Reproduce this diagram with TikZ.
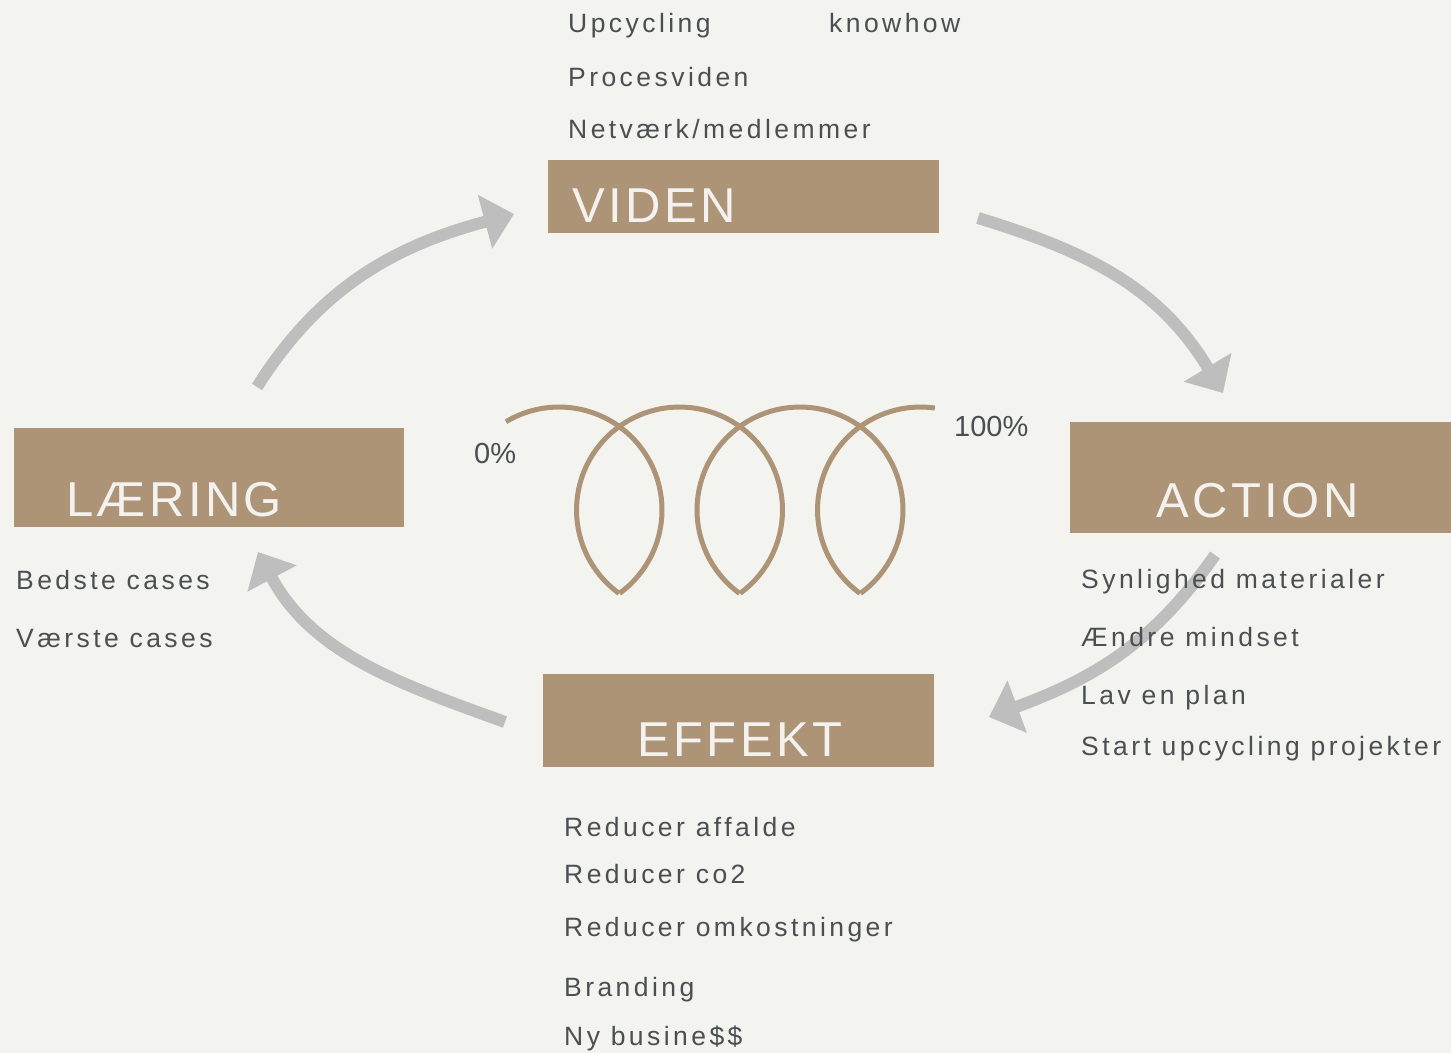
\documentclass[tikz,border=0pt]{standalone}
\usepackage{fontspec}
\setmainfont{Liberation Sans}
\newfontfamily\listfont[LetterSpace=13]{Liberation Sans}
\newfontfamily\boxfont[LetterSpace=7]{Liberation Sans}
\usetikzlibrary{arrows.meta,calc}
\definecolor{bgcol}{HTML}{F3F3EF}
\definecolor{sand}{HTML}{AD9477}
\definecolor{ink}{HTML}{4B4F52}
\definecolor{arrgray}{HTML}{BDBEBD}
\definecolor{boxtxt}{HTML}{F3F2EE}

\begin{document}
\begin{tikzpicture}[x=1pt,y=-1pt]
	\tikzset{box/.style={fill=sand, anchor=north west, inner sep=0pt, outer sep=0pt},
		title/.style={anchor=base west, inner sep=0pt, text=boxtxt, font=\boxfont\fontsize{49}{56}\selectfont},
		item/.style={anchor=base west, inner sep=0pt, text=ink, font=\listfont\fontsize{26.5}{30}\selectfont},
		pct/.style={anchor=base west, inner sep=0pt, text=ink, font=\fontsize{29}{32}\selectfont},
		flow/.style={draw=arrgray, line width=12pt, -{Triangle[length=30pt,width=54pt]}},
		coil/.style={draw=sand, line width=5pt}}

	\fill[bgcol] (0,0) rectangle (1451,1053);
	\useasboundingbox (0,0) rectangle (1451,1053);

	\node[box, minimum width=391pt, minimum height=73pt] (viden) at (548,160) {};
	\node[box, minimum width=390pt, minimum height=99pt] (laering) at (14,428) {};
	\node[box, minimum width=381pt, minimum height=111pt] (action) at (1070,422) {};
	\node[box, minimum width=391pt, minimum height=93pt] (effekt) at (543,674) {};

	\node[title] (videnT) at (572,222) {VIDEN};
	\node[title] (laeringT) at (66,516) {LÆRING};
	\node[title] (actionT) at (1156,517) {ACTION};
	\node[title] (effektT) at (637,756) {EFFEKT};

	\draw[flow] ($(viden.east)+(39,21.5)$) .. controls +(115,35) and +(-62,-103) .. ($(action.north west)+(153,-29)$);
	\draw[flow] ($(action.south west)+(145,22)$) .. controls +(-63,90) and +(103,-38) .. ($(effekt.east)+(55,-3.5)$);
	\draw[flow] ($(effekt.west)+(-38,1.5)$) .. controls +(-108,-39) and +(54,101) .. ($(laering.south west)+(244,25)$);
	\draw[flow] ($(laering.north west)+(243,-41)$) .. controls +(64,-102) and +(-116,31) .. ($(viden.west)+(-34,17.5)$);

	\draw[coil] plot[domain=-121:54, samples=50] ({559+103*cos(\x)},{510+103*sin(\x)});
	\foreach \cx in {679.5,800}{
		\draw[coil] plot[domain=126:414, samples=80] ({\cx+103*cos(\x)},{510+103*sin(\x)});
	}
	\draw[coil] plot[domain=126:278, samples=50] ({920.5+103*cos(\x)},{510+103*sin(\x)});

	\node[pct] (nul) at (474,463) {0\%};
	\node[pct] (fuld) at (954,436) {100\%};

	\foreach \t/\y [count=\i] in {Upcycling/32, Procesviden/86, {Netværk/medlemmer}/138}{
		\node[item] (vid\i) at (568,\y) {\t};
	}
	\node[item] (vidK) at (829,32) {knowhow};

	\foreach \t/\y [count=\i] in {Bedste cases/589, Værste cases/647}{
		\node[item] (lae\i) at (16,\y) {\t};
	}

	\foreach \t/\y [count=\i] in {Synlighed materialer/588, Ændre mindset/646, Lav en plan/704, Start upcycling projekter/755}{
		\node[item] (act\i) at (1081,\y) {\t};
	}

	\foreach \t/\y [count=\i] in {Reducer affalde/836, Reducer co2/883, Reducer omkostninger/936, Branding/996, Ny busine\$\$/1045}{
		\node[item] (eff\i) at (564,\y) {\t};
	}

\end{tikzpicture}
\end{document}
